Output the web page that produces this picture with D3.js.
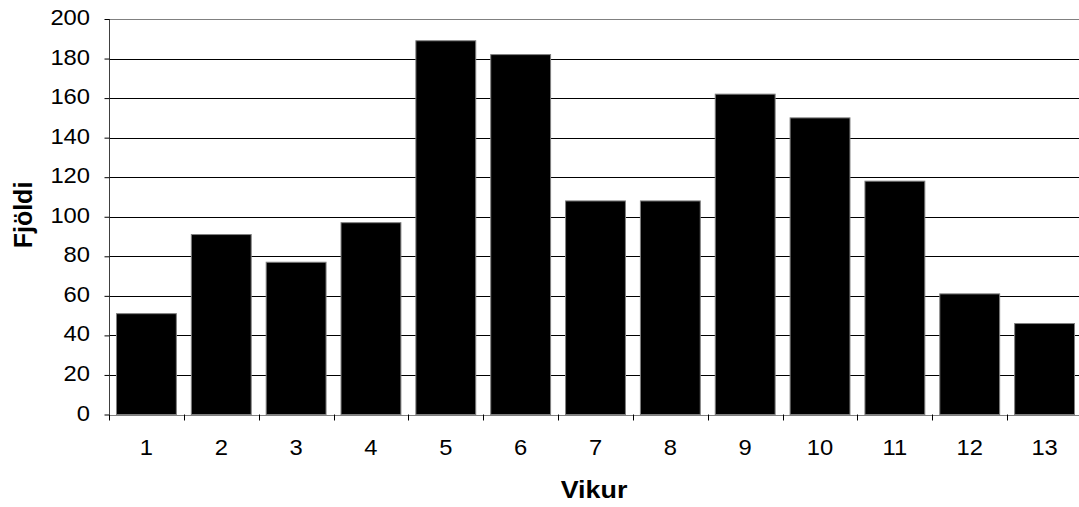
<!DOCTYPE html>
<html><head><meta charset="utf-8">
<script src="https://cdn.jsdelivr.net/npm/d3@7"></script>
<style>body{margin:0;background:#fff}svg{display:block}</style>
</head><body>
<script>
const categories = ["1","2","3","4","5","6","7","8","9","10","11","12","13"];
const values = [51, 91, 77, 97, 189, 182, 108, 108, 162, 150, 118, 61, 46];
const yTicks = [0, 20, 40, 60, 80, 100, 120, 140, 160, 180, 200];
const xTitle = "Vikur";
const yTitle = "Fjöldi";

(function () {
const W = 1079, H = 507;
const pLeft = 109, pRight = 1082, pTop = 19, pBottom = 414.5;
const svg = d3.select("body").append("svg").attr("width", W).attr("height", H);
const font = "'Liberation Sans', Arial, sans-serif";
const sx = 1.08;

const x = d3.scaleBand().domain(categories).range([pLeft, pRight]).paddingInner(0.2).paddingOuter(0.1);
const y = d3.scaleLinear().domain([0, 200]).range([pBottom, pTop]);

// gridlines
svg.append("g").selectAll("line").data(yTicks.filter(t => t > 0)).join("line")
  .attr("x1", pLeft).attr("x2", pRight)
  .attr("y1", d => Math.round(y(d)) + 0.5).attr("y2", d => Math.round(y(d)) + 0.5)
  .attr("stroke", d => d === 200 ? "#808080" : "#000").attr("stroke-width", 1);

// bars
svg.append("g").selectAll("rect").data(values).join("rect")
  .attr("x", (d, i) => x(categories[i]))
  .attr("y", d => y(d))
  .attr("width", x.bandwidth())
  .attr("height", d => y(0) - y(d))
  .attr("fill", "#000").attr("stroke", "#808080").attr("stroke-width", 1);

// y axis
const yAxis = d3.axisLeft(y).tickValues(yTicks).tickSize(5).tickFormat("");
const gy = svg.append("g").attr("transform", `translate(${pLeft + 0.5},0)`).call(yAxis);
gy.select(".domain").attr("stroke", "#404040").attr("d", `M0,${pTop}V${pBottom}`);
gy.selectAll(".tick line").attr("stroke", "#000");

svg.append("g").selectAll("text").data(yTicks).join("text")
  .attr("transform", d => `translate(90,${y(d) + 6}) scale(${sx},1)`)
  .attr("text-anchor", "end")
  .attr("font-family", font).attr("font-size", 22).attr("fill", "#000")
  .text(d => d);

// x axis baseline
svg.append("line").attr("x1", pLeft).attr("x2", pRight)
  .attr("y1", Math.round(pBottom) + 0.5).attr("y2", Math.round(pBottom) + 0.5)
  .attr("stroke", "#808080");

// category boundary ticks
const gap = x.step() - x.bandwidth();
const bounds = categories.map(c => x(c) - gap / 2).concat([pRight]);
svg.append("g").selectAll("line").data(bounds).join("line")
  .attr("x1", d => Math.round(d) + 0.5).attr("x2", d => Math.round(d) + 0.5)
  .attr("y1", pBottom).attr("y2", pBottom + 6)
  .attr("stroke", "#000");

// category labels
svg.append("g").selectAll("text").data(categories).join("text")
  .attr("transform", d => `translate(${x(d) + x.bandwidth() / 2},455) scale(${sx},1)`)
  .attr("text-anchor", "middle")
  .attr("font-family", font).attr("font-size", 22).attr("fill", "#000")
  .text(d => d);

// titles
svg.append("text").attr("transform", `translate(594,498) scale(1.12,1)`).attr("text-anchor", "middle")
  .attr("font-family", font).attr("font-size", 24).attr("font-weight", "bold").text(xTitle);
svg.append("text").attr("transform", `translate(32,215) rotate(-90)`)
  .attr("text-anchor", "middle")
  .attr("font-family", font).attr("font-size", 25).attr("font-weight", "bold").text(yTitle);
})();
</script>
</body></html>
